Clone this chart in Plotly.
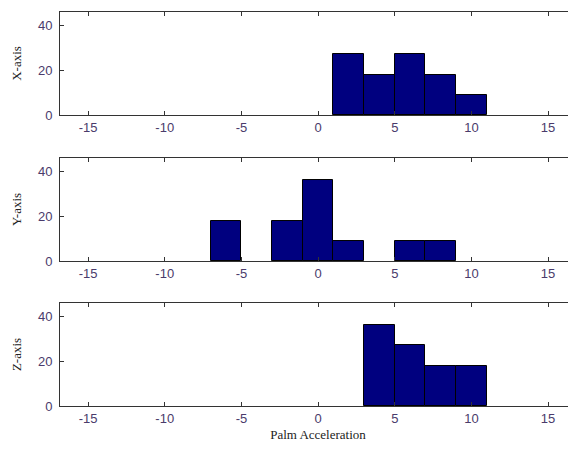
import plotly.graph_objects as go
from plotly.subplots import make_subplots

# Bin centres (bin width 2) and counts
x_centers = [2, 4, 6, 8, 10]
x_counts = [27, 18, 27, 18, 9]

y_centers = [-6, -2, 0, 2, 6, 8]
y_counts = [18, 18, 36, 9, 9, 9]

z_centers = [4, 6, 8, 10]
z_counts = [36, 27, 18, 18]

panel_titles = ["X-axis", "Y-axis", "Z-axis"]
x_tick_vals = [-15, -10, -5, 0, 5, 10, 15]
x_tick_text = ["-15", "-10", "-5", "0", "5", "10", "15"]
y_tick_vals = [0, 20, 40]
y_tick_text = ["0", "20", "40"]
bin_width = 2

fig = make_subplots(rows=3, cols=1, shared_xaxes=False, vertical_spacing=0.1)

series = [(x_centers, x_counts), (y_centers, y_counts), (z_centers, z_counts)]
for i, (c, v) in enumerate(series, start=1):
    fig.add_trace(
        go.Bar(x=c, y=v, width=[bin_width] * len(c),
               marker=dict(color="#00007f", line=dict(color="#000000", width=1)),
               showlegend=False),
        row=i, col=1)

domains = [[0.7386, 1.0], [0.368, 0.6294], [0.0, 0.2614]]
tick_font = dict(family="Arial, Liberation Sans, sans-serif", size=13, color="#4a3b6b")
title_font = dict(family="Times New Roman, Liberation Serif, serif", size=13, color="#222222")

for i in range(3):
    xa = "xaxis" if i == 0 else f"xaxis{i+1}"
    ya = "yaxis" if i == 0 else f"yaxis{i+1}"
    fig.layout[xa].update(
        range=[-16.83, 16.82], tickvals=x_tick_vals, ticktext=x_tick_text,
        ticks="inside", ticklen=4, automargin=False,
        tickcolor="#333333", showline=True, linecolor="#333333", linewidth=1,
        mirror="ticks", showgrid=False, zeroline=False, tickfont=tick_font)
    fig.layout[ya].update(
        range=[0, 45.8], tickvals=y_tick_vals, ticktext=y_tick_text,
        ticks="inside", ticklen=4, automargin=False, ticklabelstandoff=4,
        tickcolor="#333333", showline=True, linecolor="#333333", linewidth=1,
        mirror="ticks", showgrid=False, zeroline=False, tickfont=tick_font,
        domain=domains[i],
        title=dict(text=panel_titles[i], font=title_font, standoff=13))

fig.layout.xaxis3.title = dict(text="Palm Acceleration", font=title_font, standoff=9)

# Page body has an 8px margin; size the figure so the plot lands where the reference has it
fig.update_layout(
    width=568, height=434,
    margin=dict(l=52, r=0, t=4, b=36),
    paper_bgcolor="white", plot_bgcolor="white",
    bargap=0,
)

fig.write_html("out.html")
